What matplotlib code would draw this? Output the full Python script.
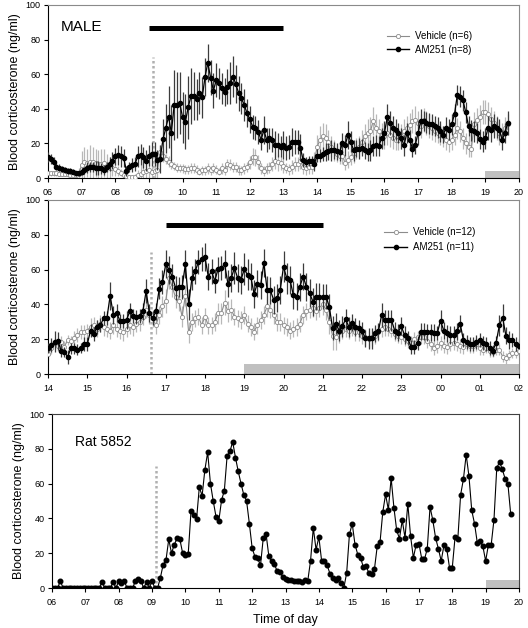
import matplotlib
matplotlib.use("Agg")
import matplotlib.pyplot as plt
import numpy as np
from matplotlib.lines import Line2D

plt.rcParams["font.family"] = ["Liberation Sans", "DejaVu Sans"]

STEP_H = 5 / 60  # samples every 5 min

# ---- panel A: MALE, from 06:00 ----
male_start = 6.0
male_vehicle = [
    3, 2.8, 2.7, 2.7, 2.5, 2.5, 2.5, 2.3, 2, 2, 2, 2.5,
    7.5, 9, 8.5, 9, 9, 8.5, 8, 8, 8.5, 7, 6, 6,
    5, 4.2, 3, 1.7, 1.2, 0.8, 0.6, 0.8, 1.5, 2.3, 3.7, 4.2,
    4.6, 3.7, 4, 4.6, 15, 13, 11, 9.5, 8, 7, 6, 5.8,
    5.5, 5, 5, 5.8, 5.8, 4.8, 3.7, 4.5, 4.5, 5.5, 4.5, 5.8,
    4.8, 3.7, 5.5, 4.8, 8, 7.7, 6.4, 6.4, 4.8, 4.5, 5.5, 6.4,
    9, 12.3, 12, 9.4, 5.5, 4, 5.5, 6, 8, 10, 9, 8.6,
    7, 5.8, 5, 6.5, 8.3, 8.3, 10, 6.4, 5.5, 6.4, 6.4, 10,
    18, 22, 24, 23, 21, 18, 16, 14, 13, 13, 8.5, 10.5,
    12.3, 14.5, 17, 18, 21, 24, 26, 27, 33, 29, 27, 25,
    24, 26, 25, 23, 22, 22, 24, 27, 28.7, 30.6, 33, 33.5,
    32, 30, 33.5, 32, 30, 28.7, 27, 26, 25, 24, 22, 21,
    22, 25, 28.7, 27, 23, 20, 18, 17, 31, 33.5, 35.4, 38,
    38, 37, 34, 31.6, 29, 26, 26, 29, 31,
]
male_vehicle_sem = [
    1.5, 1.5, 1.5, 1.5, 1.5, 1.5, 1.5, 1.5, 1.5, 1.5, 2, 3,
    8, 9, 8, 10, 9, 8, 8, 9, 8, 7, 6, 5,
    4, 3, 2, 2, 1.5, 1, 1, 1.5, 3, 5, 8, 7,
    6, 5, 5, 5, 4, 4, 3, 3, 3, 2.5, 2.5, 2.5,
    2.5, 2.5, 2.5, 3, 3, 2.5, 2, 2.5, 2.5, 3, 2.5, 3,
    2.5, 2, 3, 3, 3, 3, 3, 3, 3, 2.5, 3, 3,
    4, 5, 5, 4, 3, 3, 3, 3, 4, 5, 5, 4,
    4, 3, 3, 4, 4, 4, 5, 4, 4, 4, 4, 5,
    7, 8, 8, 8, 7, 6, 6, 5, 5, 5, 4, 5,
    5, 6, 6, 6, 7, 7, 8, 8, 8, 8, 7, 7,
    7, 7, 7, 6, 6, 6, 7, 7, 7, 7, 7, 8,
    7, 7, 7, 7, 7, 7, 6, 6, 6, 6, 6, 6,
    6, 6, 6, 6, 6, 6, 6, 5, 7, 7, 7, 7,
    7, 7, 7, 7, 7, 7, 6, 6, 6,
]
male_am251 = [
    12, 11, 9.5, 6.5, 6, 5.2, 4.6, 4, 4, 3.7, 2.8, 2.8,
    3.5, 4.5, 6, 6.5, 6.5, 6, 6, 5.5, 4.6, 6.5, 8, 10,
    12.5, 13.3, 12.5, 11.5, 4, 6.5, 7.5, 8, 12.5, 13.5, 12, 10,
    13, 14, 14, 10.4, 11, 22.3, 28.7, 35.4, 26, 42.2, 42, 43.5,
    35, 32.5, 40.8, 47.4, 47.4, 45.5, 49, 46.6, 58.2, 66.6, 58, 50.5,
    56.6, 54.7, 51.8, 49.9, 52.8, 55, 58.6, 54.3, 49, 46, 42.2, 37.4,
    33.9, 29.7, 28.7, 26.8, 22, 27.7, 22, 23, 22, 19, 19, 18,
    19, 17.4, 18, 21, 21, 21, 17.6, 10.4, 9.4, 10, 10, 8,
    13, 13, 14, 15, 15.5, 16, 16, 15.5, 15, 20, 19, 25,
    21, 16, 17, 17, 17.5, 16, 15, 16, 18.5, 19, 18.5, 23,
    26, 35, 32, 29, 28, 26, 23, 19, 26, 22, 17, 19,
    26, 33, 33, 32, 31.5, 31, 30, 29, 27, 25, 29, 28,
    31, 37, 48, 47, 45, 38, 30, 27.5, 27, 26, 22.5, 21,
    23, 29, 28, 30, 29, 28, 22, 26, 32,
]
male_am251_sem = [
    3, 3, 2.5, 2, 2, 2, 1.5, 1.5, 1.5, 1.5, 1.5, 1.5,
    2, 2, 3, 3, 3, 4, 4, 3, 3, 3, 4, 5,
    5, 6, 6, 5, 3, 3, 4, 4, 6, 6, 6, 6,
    6, 7, 7, 6, 8, 12, 14, 18, 16, 20, 19, 18,
    15, 16, 18, 16, 14, 12, 12, 12, 11, 11, 10, 10,
    10, 9, 9, 8, 10, 12, 12, 11, 10, 9, 9, 8,
    8, 7, 7, 7, 6, 8, 7, 6, 7, 8, 7, 6,
    8, 7, 7, 8, 7, 7, 8, 4, 3, 3, 3, 4,
    4, 4, 4, 5, 5, 6, 5, 5, 5, 6, 6, 8,
    6, 6, 5, 6, 5, 5, 5, 6, 6, 6, 6, 6,
    7, 8, 7, 7, 6, 6, 6, 6, 6, 6, 5, 5,
    7, 7, 6, 6, 6, 6, 6, 6, 6, 5, 6, 6,
    6, 6, 6, 6, 6, 6, 6, 6, 6, 6, 6, 6,
    6, 7, 7, 7, 6, 6, 6, 6, 7,
]

# ---- panel B: from 14:00 to 02:00 ----
second_start = 14.0
second_vehicle = [
    11.3, 14.7, 17.6, 16, 18.6, 15.7, 19.5, 19, 20.5, 22.4, 24.4, 24,
    25, 27, 28, 26, 29, 27, 26, 25, 28, 26, 25, 24,
    26, 28, 27, 29, 30, 33, 37, 34, 32, 28, 34, 39,
    42, 55, 50, 44, 42, 33, 45, 24, 30, 32, 33, 28,
    33, 28, 28, 30, 35, 35, 41, 36, 37, 33, 32, 31,
    34, 29, 27, 24.4, 28, 31, 34, 38.8, 37, 34, 30, 30,
    28, 27, 25, 26, 27, 29, 34, 36, 37, 38, 36, 38,
    40, 37, 30, 22, 21, 24, 25, 26, 25, 27, 24, 24,
    22, 21, 20, 21, 22, 24, 26, 27, 26, 25, 23, 22,
    21, 20, 19, 18, 20, 21, 21.5, 21, 19, 17, 15, 16,
    17.6, 16, 15.7, 17, 18, 17, 16, 15.5, 17, 16, 16, 17,
    15, 14, 15, 13, 12.9, 13.8, 14, 10, 9, 11, 12, 12,
    13,
]
second_vehicle_sem = [
    3, 3, 3, 3, 3, 3, 3, 3, 4, 4, 4, 4,
    4, 5, 5, 5, 5, 5, 5, 5, 5, 5, 5, 5,
    5, 5, 5, 5, 5, 5, 5, 5, 5, 5, 5, 6,
    7, 6, 6, 6, 6, 6, 6, 6, 5, 5, 5, 5,
    5, 5, 5, 5, 6, 6, 7, 6, 6, 5, 5, 5,
    5, 5, 5, 5, 5, 5, 5, 6, 5, 5, 5, 5,
    5, 5, 5, 5, 5, 5, 5, 5, 5, 5, 5, 5,
    6, 6, 7, 8, 7, 6, 5, 5, 5, 5, 5, 5,
    5, 5, 5, 5, 5, 5, 5, 5, 4, 4, 4, 4,
    4, 4, 4, 4, 4, 4, 4, 4, 4, 4, 4, 4,
    4, 4, 4, 4, 4, 4, 4, 4, 4, 4, 4, 4,
    4, 3, 3, 3, 3, 3, 3, 3, 3, 3, 3, 3,
    3,
]
second_am251 = [
    15, 16.5, 18.5, 19, 13.5, 12.5, 10, 14.7, 14.7, 14, 15, 17.5,
    17, 25, 22.8, 27, 28, 32, 32, 45, 34, 35, 30.6, 30.6,
    31, 36, 33.5, 33, 33.5, 36, 47.7, 35, 32, 36, 49, 53,
    63, 60, 56, 49.5, 50, 50, 63, 40, 55, 59, 64.5, 66,
    67, 56, 59, 53.5, 60.5, 61, 63, 52, 55, 61, 55, 54,
    60.3, 57, 56, 46, 52, 51, 63.6, 48.3, 48, 42.6, 43.5, 48.3,
    61.7, 55, 54, 45.4, 44.5, 50.2, 56, 50.2, 46.4, 41.6, 44.5, 44.5,
    44.5, 44.5, 38.7, 26.3, 29, 25, 27.5, 31.4, 27, 29.5, 27, 26.3,
    25, 20.5, 20.5, 20.5, 23.4, 24.5, 33.9, 31, 31, 31, 25, 23.7,
    27.6, 22.4, 20.5, 15.7, 15.7, 18, 24.3, 24.3, 24, 24, 23.7, 23.4,
    30.6, 25, 23.4, 22.4, 22.4, 24.5, 29, 19.5, 18.5, 17, 17.5, 18.6,
    19.5, 18, 17, 15, 13.4, 18, 28, 32.4, 22, 19.5, 19.5, 17,
    16,
]
second_am251_sem = [
    3, 4, 6, 5, 4, 3, 4, 3, 3, 3, 3, 4,
    4, 4, 4, 4, 4, 4, 4, 8, 5, 5, 4, 4,
    5, 5, 4, 4, 4, 5, 7, 5, 4, 5, 6, 7,
    8, 8, 7, 7, 6, 7, 8, 9, 7, 7, 7, 7,
    8, 8, 7, 7, 7, 7, 8, 8, 8, 9, 8, 8,
    9, 9, 8, 8, 8, 8, 8, 8, 8, 8, 8, 8,
    9, 9, 8, 8, 8, 8, 8, 8, 8, 8, 8, 8,
    7, 7, 7, 7, 6, 6, 6, 6, 6, 5, 5, 5,
    5, 5, 6, 6, 5, 5, 7, 6, 6, 6, 5, 5,
    5, 5, 4, 4, 4, 4, 5, 5, 5, 5, 5, 4,
    6, 5, 5, 5, 5, 5, 5, 4, 4, 4, 4, 4,
    4, 4, 4, 4, 3, 4, 6, 8, 5, 5, 4, 4,
    4,
]

# ---- panel C: single rat, from 06:00 ----
rat_start = 6.0
rat_5852 = [
    0, 0, 0, 4, 0, 0, 0, 0, 0, 0, 0, 0,
    0, 0, 0, 0, 0, 0, 3.5, 0, 0, 0, 3.5, 0,
    4, 3, 4, 0, 0, 0, 4, 5, 4, 0, 3.5, 0,
    4, 0, 0, 6, 13.5, 16, 28, 20, 25, 28.5, 28, 20,
    19, 19.5, 44, 42, 39.5, 58, 53, 68, 78, 60, 50, 41,
    38.5, 50.5, 56, 76, 78.5, 84, 75, 67, 60, 53.5, 50, 37,
    23, 18, 17, 13, 28.7, 31.2, 18.4, 15.5, 13.8, 9.6, 9.2, 6.3,
    5.4, 4.8, 4.4, 4.2, 4, 3.8, 3.4, 4.8, 4, 15.5, 34.5, 22,
    29.3, 15.5, 15.5, 13, 8.2, 5.7, 4.8, 5.7, 2.9, 0.2, 8.6, 30.8,
    37, 25, 19.2, 17.4, 12, 12.5, 8.6, 8.2, 10.9, 24, 26.2, 43.7,
    53.8, 45, 63.2, 46.2, 33.1, 28.4, 38.9, 28.9, 48.5, 29.7, 17.4, 24.9,
    25.5, 16.9, 16.5, 22.6, 46.6, 38.9, 28.7, 22.6, 15.5, 24.5, 22.6, 11.7,
    11.7, 29.3, 28.4, 53.6, 62.5, 76.6, 64.2, 44.6, 37, 26, 26.8, 24,
    15.5, 24.9, 24.9, 39.3, 69, 72.4, 68.2, 62.8, 60, 42.7,
]

# annotations: (start, end) in hours, heights in ng/ml
male_drug_bar = (9.0, 13.0, 86.5)
male_dark = (19.0, 20.0, 3.8)
male_inject = 9.13
second_drug_bar = (17.0, 21.0, 85.6)
second_dark = (19.0, 26.0, 5.5)
second_inject = 16.62
rat_dark = (19.0, 20.0, 4.5)
rat_inject = 9.12

male_labels = ["Vehicle (n=6)", "AM251 (n=8)"]
second_labels = ["Vehicle (n=12)", "AM251 (n=11)"]

VEH_COLOR = "#8c8c8c"
VEH_ERR = "#b8b8b8"
DRUG_ERR = "#3c3c3c"
DARK_COLOR = "#c0c0c0"
DOT_COLOR = "#b0b0b0"
YLABEL = "Blood corticosterone (ng/ml)"


def times(start, values):
    return start + np.arange(len(values)) * STEP_H


def style_axes(ax, x0, x1, frame_color):
    ax.set_xlim(x0, x1)
    ax.set_ylim(0, 100)
    ax.set_yticks(np.arange(0, 101, 20))
    hours = np.arange(x0, x1 + 0.5, 1)
    ax.set_xticks(hours)
    ax.set_xticklabels([f"{int(h) % 24:02d}" for h in hours])
    ax.tick_params(direction="out", length=3, width=0.8, labelsize=6.5, pad=2.5)
    ax.tick_params(axis="x", pad=4)
    for side in ("top", "right"):
        ax.spines[side].set_color(frame_color)
    for side in ("left", "bottom"):
        ax.spines[side].set_color("black")
    ax.set_ylabel(YLABEL, fontsize=9, labelpad=3)


def draw_marks(ax, drug_bar, dark, inject):
    if drug_bar is not None:
        x0, x1, y = drug_bar
        ax.plot([x0, x1], [y, y], color="black", lw=3.6, solid_capstyle="butt", zorder=5)
    x0, x1, h = dark
    ax.fill_between([x0, x1], 0, h, color=DARK_COLOR, lw=0, zorder=1, clip_on=False)
    ax.plot([inject, inject], [0, 70], color=DOT_COLOR, lw=1.8, ls=(0, (1, 1)), zorder=1)


def draw_group(ax, start, veh, veh_sem, drug, drug_sem):
    tv = times(start, veh)
    td = times(start, drug)
    ax.errorbar(tv, veh, yerr=veh_sem, fmt="none", ecolor=VEH_ERR, elinewidth=0.9, zorder=2)
    ax.plot(tv, veh, color=VEH_COLOR, lw=0.8, marker="o", ms=3.0, mfc="white",
            mec=VEH_COLOR, mew=0.6, zorder=3)
    ax.errorbar(td, drug, yerr=drug_sem, fmt="none", ecolor=DRUG_ERR, elinewidth=0.9, zorder=4)
    ax.plot(td, drug, color="black", lw=0.9, marker="o", ms=3.0, mfc="black",
            mec="black", zorder=4)
    handles = [
        Line2D([], [], color=VEH_COLOR, lw=0.8, marker="o", ms=3.0, mfc="white", mec=VEH_COLOR, mew=0.6),
        Line2D([], [], color="black", lw=1.0, marker="o", ms=3.0, mfc="black", mec="black"),
    ]
    return handles


fig = plt.figure(figsize=(5.28, 6.28), dpi=100)
ax1 = fig.add_axes([48 / 528, 1 - 178 / 628, 471 / 528, 173 / 628])
ax2 = fig.add_axes([48 / 528, 1 - 374 / 628, 471 / 528, 174 / 628])
ax3 = fig.add_axes([52 / 528, 1 - 588 / 628, 467 / 528, 174 / 628])

# panel A
style_axes(ax1, 6, 20, "#8a8a8a")
draw_marks(ax1, male_drug_bar, male_dark, male_inject)
h1 = draw_group(ax1, male_start, male_vehicle, male_vehicle_sem, male_am251, male_am251_sem)
ax1.legend(h1, male_labels, loc="upper left", bbox_to_anchor=(0.709, 0.875), frameon=False,
           fontsize=7, borderpad=0, handlelength=2.3, handletextpad=0.6, labelspacing=0.35)
ax1.text(0.028, 0.874, "MALE", transform=ax1.transAxes, fontsize=11, va="center", ha="left")

# panel B
style_axes(ax2, 14, 26, "#8a8a8a")
draw_marks(ax2, second_drug_bar, second_dark, second_inject)
h2 = draw_group(ax2, second_start, second_vehicle, second_vehicle_sem, second_am251, second_am251_sem)
ax2.legend(h2, second_labels, loc="upper left", bbox_to_anchor=(0.703, 0.87), frameon=False,
           fontsize=7, borderpad=0, handlelength=2.4, handletextpad=0.6, labelspacing=0.5)

# panel C
style_axes(ax3, 6, 20, "#404040")
draw_marks(ax3, None, rat_dark, rat_inject)
ax3.plot(times(rat_start, rat_5852), rat_5852, color="black", lw=0.8, marker="o", ms=3.3,
         mfc="black", mec="black", zorder=4)
ax3.text(0.049, 0.84, "Rat 5852", transform=ax3.transAxes, fontsize=10, va="center", ha="left")
ax3.set_xlabel("Time of day", fontsize=9, labelpad=5)

fig.savefig("out.png", dpi=100)
